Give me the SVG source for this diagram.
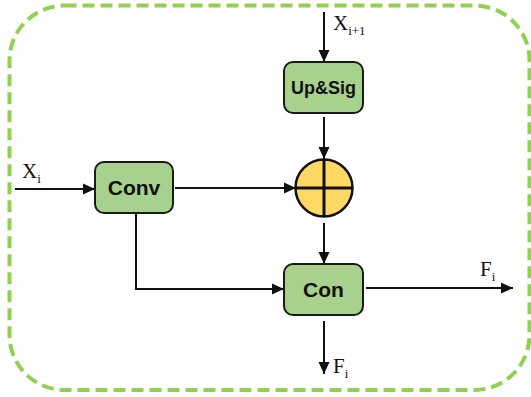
<svg xmlns="http://www.w3.org/2000/svg" width="531" height="397" viewBox="0 0 531 397">
  <style>
    .box { fill: #a9d18e; stroke: #1a1a1a; stroke-width: 2; }
    .lbl { font-family: "Liberation Sans", Arial, sans-serif; font-weight: bold; fill: #111; text-anchor: middle; }
    .var { font-family: "Liberation Serif", "Times New Roman", serif; fill: #111; }
    .edge { fill: none; stroke: #111; stroke-width: 2; }
  </style>
  <defs>
    <marker id="arrow" markerUnits="userSpaceOnUse" markerWidth="14" markerHeight="14" viewBox="0 0 14 14" refX="13" refY="7" orient="auto">
      <path d="M1,1.5 L13,7 L1,12.5 Z" fill="#111"/>
    </marker>
  </defs>

  <!-- dashed module frame -->
  <rect x="9.5" y="5.5" width="520" height="384.5" rx="55" ry="55" fill="none" stroke="#92d050" stroke-width="4" stroke-dasharray="12 6"/>

  <g id="connectors">
    <line class="edge" x1="324" y1="12" x2="324" y2="62" marker-end="url(#arrow)"/>
    <line class="edge" x1="324" y1="117" x2="324" y2="159" marker-end="url(#arrow)"/>
    <line class="edge" x1="15" y1="189" x2="95" y2="189" marker-end="url(#arrow)"/>
    <line class="edge" x1="175" y1="188" x2="296" y2="188" marker-end="url(#arrow)"/>
    <line class="edge" x1="324" y1="223" x2="324" y2="264" marker-end="url(#arrow)"/>
    <polyline class="edge" points="136,213 136,289 284,289" marker-end="url(#arrow)"/>
    <line class="edge" x1="366" y1="288" x2="513" y2="288" marker-end="url(#arrow)"/>
    <line class="edge" x1="324" y1="321" x2="324" y2="374" marker-end="url(#arrow)"/>
  </g>

  <g id="up-sig">
    <rect class="box" x="284" y="62" width="79" height="51" rx="9"/>
    <text class="lbl" x="323.5" y="94" font-size="18">Up&amp;Sig</text>
  </g>

  <g id="conv">
    <rect class="box" x="95" y="162" width="78" height="51" rx="9"/>
    <text class="lbl" x="134" y="195" font-size="21">Conv</text>
  </g>

  <g id="sum">
    <circle cx="324" cy="188" r="28.5" fill="#ffd966" stroke="#111" stroke-width="2.5"/>
    <line x1="324" y1="159.5" x2="324" y2="216.5" stroke="#111" stroke-width="3"/>
    <line x1="295.5" y1="188" x2="352.5" y2="188" stroke="#111" stroke-width="3"/>
  </g>

  <g id="con">
    <rect class="box" x="284" y="264" width="79" height="51" rx="9"/>
    <text class="lbl" x="323.5" y="297" font-size="21">Con</text>
  </g>

  <g id="labels">
    <text class="var" x="333" y="30" font-size="21">X<tspan font-size="13" dy="5">i+1</tspan></text>
    <text class="var" x="22" y="178" font-size="21">X<tspan font-size="13" dy="5">i</tspan></text>
    <text class="var" x="480" y="276" font-size="21">F<tspan font-size="13" dy="5">i</tspan></text>
    <text class="var" x="333" y="373" font-size="21">F<tspan font-size="13" dy="5">i</tspan></text>
  </g>
</svg>
